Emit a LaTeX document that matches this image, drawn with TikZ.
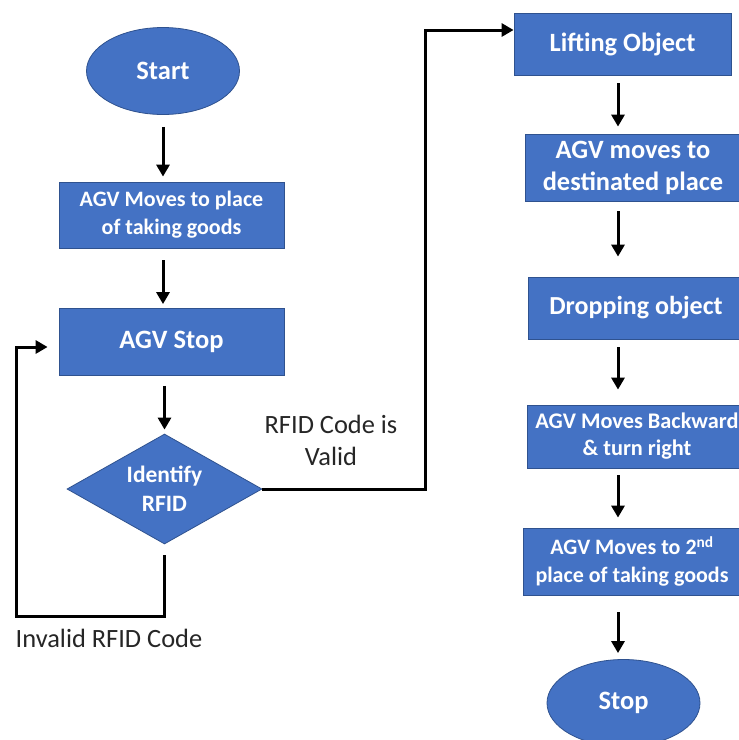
\documentclass[tikz,border=0pt]{standalone}
\usepackage{fontspec}
\setmainfont{Carlito}
\usetikzlibrary{shapes.geometric,arrows.meta}
\definecolor{boxblue}{HTML}{4472C4}
\definecolor{boxedge}{HTML}{2F528F}
\definecolor{labelgray}{HTML}{262626}
\newcommand\sizedfont[2]{\fontsize{#1}{#2}\selectfont}

\begin{document}
\begin{tikzpicture}[x=1pt,y=-1pt,
  blk/.style={fill=boxblue,draw=boxedge,line width=0.8pt,text=white,align=center,inner sep=0pt},
  procbox/.style={blk,rectangle},
  term/.style={blk,ellipse,minimum width=153pt,minimum height=87pt,font=\bfseries\sizedfont{26.5}{30}},
  decide/.style={blk,diamond,aspect=1.77,minimum width=195pt,minimum height=110pt,font=\bfseries\sizedfont{23.5}{29}},
  flow/.style={line width=3pt,-{Triangle[width=13pt,length=12pt]}},
  lbl/.style={text=labelgray,align=center,inner sep=0pt,font=\sizedfont{26.4}{32}}]

\clip (0,0) rectangle (739,740);
\fill[white] (0,0) rectangle (739,740);

% left column
\node[term] (start) at (163,71) {Start};
\node[procbox,minimum width=225pt,minimum height=66pt,font=\bfseries\sizedfont{22}{28}] (b1) at (171.5,215)
  {AGV Moves to place\\of taking goods};
\node[procbox,minimum width=225pt,minimum height=67pt,font=\bfseries\sizedfont{26.5}{30}] (stopbox) at (171.5,342) {AGV Stop};
\node[decide] (dia) at (164.5,489) {Identify\\RFID};

% right column
\node[procbox,minimum width=217pt,minimum height=62pt,font=\bfseries\sizedfont{26.4}{30}] (lift) at (622.5,44) {Lifting Object};
\node[procbox,minimum width=216pt,minimum height=67pt,font=\bfseries\sizedfont{26.4}{32}] (move) at (633,167.5)
  {AGV moves to\\destinated place};
\node[procbox,minimum width=216pt,minimum height=62pt,font=\bfseries\sizedfont{26}{30}] (drop) at (636,308) {Dropping object};
\node[procbox,minimum width=220pt,minimum height=63pt,font=\bfseries\sizedfont{22.3}{27}] (back) at (637,436.5)
  {AGV Moves Backward\\\& turn right};
\node[procbox,minimum width=218pt,minimum height=67pt,font=\bfseries\sizedfont{22}{28}] (second) at (632,561.5)
  {AGV Moves to 2\textsuperscript{nd}\\place of taking goods};
\node[term] (stop) at (623.5,703) {Stop};

% branch labels
\node[lbl] (validlbl) at (331,440) {RFID Code is\\Valid};
\node[lbl] (invlbl) at (109,638) {Invalid RFID Code};

% helper points for the routed connectors
\coordinate (invcorner) at (16,616);
\coordinate (validtop) at (425,30);
\coordinate (rc) at (618,0);

% main sequence, left
\draw[flow,shorten <=12pt,shorten >=5pt] (start.south) -- (start.south |- b1.north);
\draw[flow,shorten <=12pt,shorten >=4pt] (start.south |- b1.south) -- (start.south |- stopbox.north);
\draw[flow,shorten <=10pt,shorten >=4pt] (dia.north |- stopbox.south) -- (dia.north);

% invalid code: back to AGV Stop
\draw[flow] ([yshift=-11pt]dia.south) |- (invcorner) |- ([xshift=-11pt,yshift=-5pt]stopbox.west);

% valid code: on to lifting
\draw[flow] (dia.east) -| (validtop) -- ([yshift=14pt]lift.west);

% main sequence, right
\draw[flow,shorten <=8pt,shorten >=7pt] (lift.south -| rc) -- (move.north -| rc);
\draw[flow,shorten <=10pt,shorten >=20pt] (move.south -| rc) -- (drop.north -| rc);
\draw[flow,shorten <=8pt,shorten >=15pt] (drop.south -| rc) -- (back.north -| rc);
\draw[flow,shorten <=7pt,shorten >=10pt] (back.south -| rc) -- (second.north -| rc);
\draw[flow,shorten <=17pt,shorten >=6pt] (second.south -| rc) -- (stop.north -| rc);
\end{tikzpicture}
\end{document}
